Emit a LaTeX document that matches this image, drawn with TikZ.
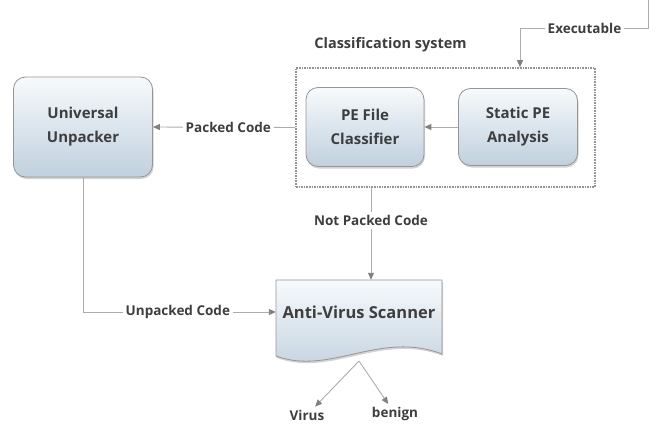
\documentclass[tikz,border=0pt]{standalone}
\usepackage{fontspec}
\setmainfont{Open Sans}
\usetikzlibrary{arrows.meta,positioning,shadows}
\definecolor{linecol}{RGB}{172,172,172}
\definecolor{tipcol}{RGB}{128,128,128}
\definecolor{boxline}{RGB}{150,150,150}
\definecolor{boxtop}{RGB}{247,250,252}
\definecolor{boxbot}{RGB}{192,208,222}
\definecolor{txtcol}{RGB}{62,62,62}
\tikzset{
  arrow/.style={draw=linecol,line width=0.9pt,-{Triangle[length=7pt,width=6pt,color=tipcol]}},
  plain/.style={draw=linecol,line width=0.9pt},
  flowbox/.style={draw=boxline,rounded corners=12pt,top color=boxtop,bottom color=boxbot,
    drop shadow={opacity=0.35,shadow xshift=1pt,shadow yshift=-2pt},align=center,
    font=\fontsize{15}{24}\selectfont\bfseries,text=txtcol,line width=0.8pt},
  docshape/.style={draw=boxline,top color=boxtop,bottom color=boxbot,line width=0.8pt,
    drop shadow={opacity=0.35,shadow xshift=1pt,shadow yshift=-2pt}},
  panel/.style={draw=gray!85,densely dotted,line width=1.6pt},
  lbl/.style={fill=white,inner sep=3pt,font=\fontsize{13.5}{16}\selectfont\bfseries,text=txtcol},
  title/.style={font=\fontsize{14.5}{17}\selectfont\bfseries,text=txtcol}
}
\begin{document}
\begin{tikzpicture}[x=1pt,y=-1pt]
  \useasboundingbox (0,0) rectangle (656,428);
  % boxes
  \node[flowbox,minimum width=139pt,minimum height=100pt] (unpacker) at (83,127) {Universal\\Unpacker};
  \node[panel,minimum width=299pt,minimum height=119pt] (clsys) at (445.5,127.5) {};
  \node[flowbox,minimum width=118pt,minimum height=79pt] (peclass) at (365,127) {PE File\\Classifier};
  \node[flowbox,minimum width=119pt,minimum height=77pt] (staticpe) at (518,127) {Static PE\\Analysis};
  \node[title] (systitle) at (390.5,45) {Classification system};
  \node[lbl] (exe) at (584.5,28) {Executable};
  \coordinate (exin) at (648,0);
  % scanner (document shape)
  \path[docshape] (276,280) -- (442,280) -- (442,354)
    .. controls (380,330) and (330,376) .. (276,356) -- cycle;
  \node[font=\fontsize{16.5}{20}\selectfont\bfseries,text=txtcol,minimum width=166pt,minimum height=64pt,inner sep=0pt]
    (scanner) at (359,312) {Anti-Virus Scanner};
  \coordinate (wave) at (359,361);
  \node[lbl,fill=none] (virus) at (307,415) {Virus};
  \node[lbl,fill=none] (benign) at (395,414) {benign};
  % connectors
  \draw[plain] (exin) |- (exe.east);
  \draw[arrow] (exe.west) -| ([xshift=74.5pt]clsys.north);
  \draw[arrow] (staticpe.west) -- (peclass.east);
  \draw[arrow] (clsys.west) -- node[lbl,pos=0.47]{Packed Code} (unpacker.east);
  \draw[arrow] ([xshift=-74.5pt]clsys.south) -- node[lbl,pos=0.355]{Not Packed Code} ([xshift=12pt]scanner.north);
  \draw[arrow] (unpacker.south) |- node[lbl,pos=0.746]{Unpacked Code} (scanner.west);
  \draw[arrow] (wave) -- (virus);
  \draw[arrow] (wave) -- (benign);
\end{tikzpicture}
\end{document}
